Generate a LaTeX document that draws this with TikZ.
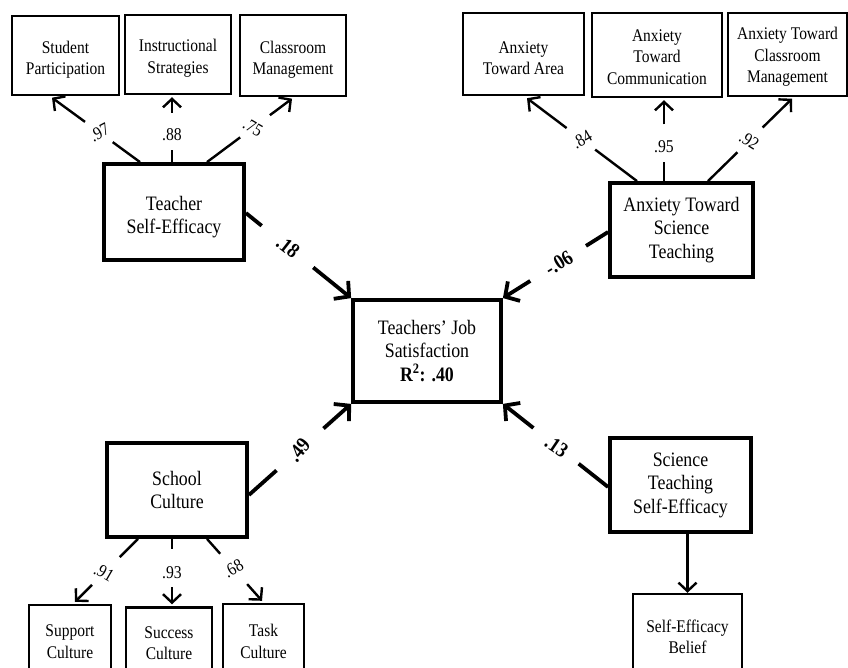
\documentclass[tikz,border=0pt]{standalone}
\usepackage{fontspec}
\setmainfont{Liberation Serif}[FakeStretch=0.87]
\usetikzlibrary{arrows.meta,calc}

\tikzset{
  indicator/.style={draw, rectangle, line width=2.4pt, align=center, inner sep=0pt,
    font=\fontsize{17.8}{21.5}\selectfont},
  construct/.style={draw, rectangle, line width=3.8pt, align=center, inner sep=0pt,
    font=\fontsize{20.5}{23.5}\selectfont},
  smalltext/.style={align=center, inner sep=0pt, font=\fontsize{17.8}{21.5}\selectfont},
  bigtext/.style={align=center, inner sep=0pt, font=\fontsize{20.5}{23.5}\selectfont},
  loading/.style={line width=2.4pt},
  loadingtip/.style={-{Straight Barb[length=8.5pt,width=18pt]}},
  effect/.style={line width=3.8pt},
  effecttip/.style={-{Straight Barb[length=10.5pt,width=23pt]}},
  coef/.style={font=\fontsize{18}{20}\selectfont, inner sep=1pt},
  bcoef/.style={font=\bfseries\fontsize{21}{24}\selectfont, inner sep=1pt},
}

% A connector broken around its coefficient:
% #1 line style, #2 tip style, #3 from, #4 to,
% #5 end of the first piece, #6 start of the second piece, #7 label options, #8 label
\newcommand\gappedlink[8]{%
  \draw[#1] (#3) -- ($(#3)!#5!(#4)$);
  \draw[#1,#2] ($(#3)!#6!(#4)$) -- (#4);
  \path (#3) -- node[#7] {#8} (#4);
}

\begin{document}
\begin{tikzpicture}[x=1pt,y=-1pt]
  \useasboundingbox (0,0) rectangle (848,668);
  \fill[white] (0,0) rectangle (848,668);
  \clip (0,0) rectangle (848,668);

  % indicators, top row (text set a little below the box centre)
  \node[indicator, minimum width=107pt, minimum height=79pt] (sp)   at (65.5,55.5) {};
  \node[indicator, minimum width=106pt, minimum height=79pt] (is)   at (178,54.5)  {};
  \node[indicator, minimum width=106pt, minimum height=81pt] (cm)   at (293,55.5)  {};
  \node[indicator, minimum width=121pt, minimum height=82pt] (ata)  at (523.5,54)  {};
  \node[indicator, minimum width=130pt, minimum height=84pt] (atc)  at (657,55)    {};
  \node[indicator, minimum width=119pt, minimum height=83pt] (atcm) at (787.5,54.5) {};
  \node[smalltext, yshift=-4pt]   (sp-t)   at (sp)   {Student\\Participation};
  \node[smalltext, yshift=-3.5pt] (is-t)   at (is)   {Instructional\\Strategies};
  \node[smalltext, yshift=-4pt]   (cm-t)   at (cm)   {Classroom\\Management};
  \node[smalltext, yshift=-4pt]   (ata-t)  at (ata)  {Anxiety\\Toward Area};
  \node[smalltext, yshift=-2pt]   (atc-t)  at (atc)  {Anxiety\\Toward\\Communication};
  \node[smalltext, yshift=-2.5pt] (atcm-t) at (atcm) {Anxiety Toward\\Classroom\\Management};

  % constructs
  \node[construct, minimum width=140pt, minimum height=96pt]  (tse)  at (174,212)   {};
  \node[bigtext, yshift=-5pt] (tse-t) at (tse) {Teacher\\Self-Efficacy};
  \node[construct, minimum width=143pt, minimum height=94pt]  (atst) at (681.5,230) {Anxiety Toward\\Science\\Teaching};
  \node[construct, minimum width=148pt, minimum height=102pt] (tjs)  at (427,351)   {Teachers’ Job\\Satisfaction\\\textbf{R\textsuperscript{2}: .40}};
  \node[construct, minimum width=140pt, minimum height=94pt]  (sc)   at (177,490)   {School\\Culture};
  \node[construct, minimum width=141pt, minimum height=94pt]  (stse) at (680.5,485) {Science\\Teaching\\Self-Efficacy};

  % indicators, bottom row
  \node[indicator, minimum width=82pt,  minimum height=73pt] (sup)  at (70,641.5)  {Support\\Culture};
  \node[indicator, minimum width=86pt,  minimum height=71pt] (suc)  at (169,643)   {Success\\Culture};
  \node[indicator, minimum width=81pt,  minimum height=75pt] (task) at (263.5,641.5) {Task\\Culture};
  \node[indicator, minimum width=109pt, minimum height=86pt] (seb)  at (687.5,637) {Self-Efficacy\\Belief};

  % connector ends
  \coordinate (tse-a) at ($(tse.north)+(-34,0)$);
  \coordinate (tse-b) at ($(tse.north)+(-2,0)$);
  \coordinate (tse-c) at ($(tse.north)+(33,0)$);
  \coordinate (sp-in) at ($(sp.south)+(-13.5,1.5)$);
  \coordinate (is-in) at ($(is.south)+(-6,2)$);
  \coordinate (cm-in) at ($(cm.south)+(-1,1.5)$);

  \coordinate (atst-a) at ($(atst.north)+(-44.5,0)$);
  \coordinate (atst-b) at ($(atst.north)+(-17.5,0)$);
  \coordinate (atst-c) at ($(atst.north)+(26.5,0)$);
  \coordinate (ata-in)  at ($(ata.south)+(3.5,2)$);
  \coordinate (atc-in)  at ($(atc.south)+(7,2)$);
  \coordinate (atcm-in) at ($(atcm.south)+(4.5,1.5)$);

  \coordinate (sc-a) at ($(sc.south)+(-39,0)$);
  \coordinate (sc-b) at ($(sc.south)+(-5,0)$);
  \coordinate (sc-c) at ($(sc.south)+(30,0)$);
  \coordinate (sup-in)  at ($(sup.north)+(5,-2)$);
  \coordinate (suc-in)  at ($(suc.north)+(3,-2)$);
  \coordinate (task-in) at ($(task.north)+(-1.5,-2)$);

  \coordinate (tse-out)  at ($(tse.east)+(0,1)$);
  \coordinate (atst-out) at ($(atst.west)+(0,2)$);
  \coordinate (sc-out)   at ($(sc.east)+(0,5)$);
  \coordinate (stse-out) at ($(stse.west)+(0,2)$);

  % factor loadings
  \gappedlink{loading}{loadingtip}{tse-a}{sp-in}{0.31}{0.625}{coef, pos=0.46, rotate=28}{.97}
  \gappedlink{loading}{loadingtip}{tse-b}{is-in}{0.19}{0.76}{coef, pos=0.43}{.88}
  \gappedlink{loading}{loadingtip}{tse-c}{cm-in}{0.39}{0.74}{coef, pos=0.54, rotate=-30}{.75}

  \gappedlink{loading}{loadingtip}{atst-a}{ata-in}{0.38}{0.64}{coef, pos=0.5, rotate=30}{.84}
  \gappedlink{loading}{loadingtip}{atst-b}{atc-in}{0.24}{0.70}{coef, pos=0.42}{.95}
  \gappedlink{loading}{loadingtip}{atst-c}{atcm-in}{0.35}{0.65}{coef, pos=0.49, rotate=-32}{.92}

  \gappedlink{loading}{loadingtip}{sc-a}{sup-in}{0.29}{0.73}{coef, pos=0.54, rotate=-30}{.91}
  \gappedlink{loading}{loadingtip}{sc-b}{suc-in}{0.16}{0.74}{coef, pos=0.51}{.93}
  \gappedlink{loading}{loadingtip}{sc-c}{task-in}{0.24}{0.73}{coef, pos=0.48, rotate=30}{.68}

  \draw[loading, loadingtip] (stse.south -| seb.north) -- (seb.north);

  % structural paths
  \gappedlink{effect}{effecttip}{tse-out}{tjs.north west}{0.15}{0.64}{bcoef, pos=0.40, rotate=-38}{.18}
  \gappedlink{effect}{effecttip}{atst-out}{tjs.north east}{0.21}{0.74}{bcoef, pos=0.47, rotate=32}{-.06}
  \gappedlink{effect}{effecttip}{sc-out}{tjs.south west}{0.27}{0.73}{bcoef, pos=0.49, rotate=50}{.49}
  \gappedlink{effect}{effecttip}{stse-out}{tjs.south east}{0.28}{0.71}{bcoef, pos=0.49, rotate=-34}{.13}
\end{tikzpicture}
\end{document}
